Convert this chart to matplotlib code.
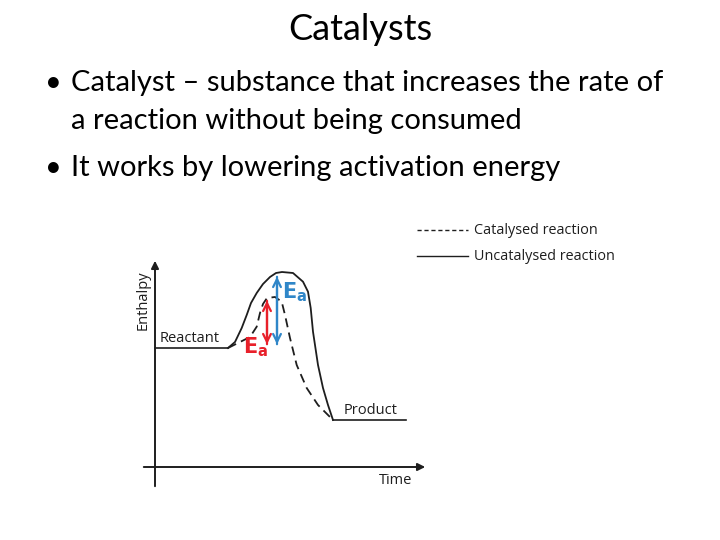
import matplotlib.pyplot as plt

# slide text
title = "Catalysts"
bullets = [["Catalyst \u2013 substance that increases the rate of",
            "a reaction without being consumed"],
           ["It works by lowering activation energy"]]

# curves (picture coords, y grows downwards)
uncat_x = [228, 235, 241.7, 246.7, 251, 256.7, 263, 270, 276, 282, 293, 303, 308, 310.7, 313, 318, 323, 328, 333]
uncat_y = [348, 342, 328, 315, 303, 293, 284, 277, 273, 272, 273, 281.7, 291.7, 308, 331.7, 365, 388, 405, 420]
cat_x = [228, 240, 250, 256.7, 260, 263, 267, 275, 281.7, 285, 290, 296.7, 306.7, 318, 333]
cat_y = [348, 342, 337, 326.7, 313, 304, 298, 297, 301.7, 315, 338, 365, 388, 405, 420]
reactant_y = 348
product_y = 420

fig = plt.figure(figsize=(7.2, 5.4), dpi=100)
ax = fig.add_axes([0, 0, 1, 1])
ax.set_xlim(0, 720)
ax.set_ylim(540, 0)
ax.axis('off')

font = 'Lato'
ax.text(360, 30, title, ha='center', va='center', fontsize=26, family=font)
line_y = [[83, 121], [168]]
for lines, ys in zip(bullets, line_y):
    ax.text(45, ys[0], "\u2022", ha='left', va='center', fontsize=21, family=font)
    for txt, y in zip(lines, ys):
        ax.text(71, y, txt, ha='left', va='center', fontsize=21, family=font)

ink = '#1e1e1e'
# axes of the diagram
ax.annotate("", xy=(155, 258), xytext=(155, 489),
            arrowprops=dict(arrowstyle='-|>', color=ink, lw=1.4, mutation_scale=11))
ax.annotate("", xy=(428, 467), xytext=(141, 467),
            arrowprops=dict(arrowstyle='-|>', color=ink, lw=1.4, mutation_scale=11))

ax.plot([155, uncat_x[0]], [reactant_y, reactant_y], color=ink, lw=1.2)
ax.plot([uncat_x[-1], 406], [product_y, product_y], color=ink, lw=1.2)
ax.plot(uncat_x, uncat_y, color=ink, lw=1.3, solid_joinstyle='round')
ax.plot(cat_x, cat_y, color=ink, lw=1.3, ls=(0, (5, 3)))

# activation energy arrows
ax.annotate("", xy=(267, min(cat_y) + 1), xytext=(267, reactant_y - 1),
            arrowprops=dict(arrowstyle='->', color='#e8202a', lw=1.6, mutation_scale=14))
ax.annotate("", xy=(267, reactant_y - 1), xytext=(267, min(cat_y) + 1),
            arrowprops=dict(arrowstyle='->', color='#e8202a', lw=1.6, mutation_scale=14))
ax.annotate("", xy=(277, min(uncat_y) + 2), xytext=(277, reactant_y - 1),
            arrowprops=dict(arrowstyle='->', color='#2f86c8', lw=1.6, mutation_scale=14))
ax.annotate("", xy=(277, reactant_y - 1), xytext=(277, min(uncat_y) + 2),
            arrowprops=dict(arrowstyle='->', color='#2f86c8', lw=1.6, mutation_scale=14))
ax.text(243, 347, r"$\mathbf{E}_\mathbf{a}$", color='#e8202a', fontsize=15, ha='left', va='center')
ax.text(282, 292, r"$\mathbf{E}_\mathbf{a}$", color='#2f86c8', fontsize=15, ha='left', va='center')

small = 'Open Sans'
ax.text(160, 339, "Reactant", fontsize=10.5, family=small, ha='left', va='center', color=ink)
ax.text(344, 410, "Product", fontsize=10.5, family=small, ha='left', va='center', color=ink)
ax.text(379, 481, "Time", fontsize=10.5, family=small, ha='left', va='center', color=ink)
ax.text(143, 300, "Enthalpy", fontsize=10.5, family=small, ha='center', va='center', rotation=90, color=ink)

# legend
ax.plot([417, 468], [230, 230], color=ink, lw=1, ls=(0, (3, 2)))
ax.plot([417, 468], [256, 256], color=ink, lw=1)
ax.text(474, 230, "Catalysed reaction", fontsize=10.4, family=small, ha='left', va='center', color=ink)
ax.text(474, 256, "Uncatalysed reaction", fontsize=10.4, family=small, ha='left', va='center', color=ink)

fig.savefig('out.png', dpi=100)
